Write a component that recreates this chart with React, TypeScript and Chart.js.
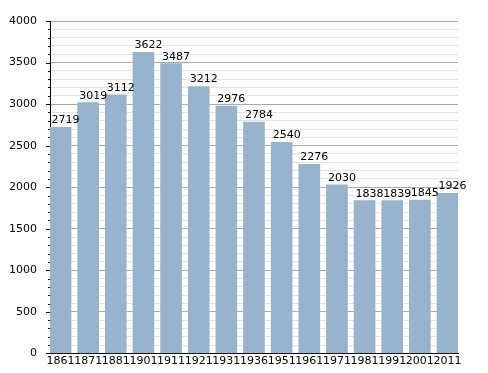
import React, { useEffect, useRef } from "react";
import { Chart, registerables } from "chart.js";

Chart.register(...registerables);

const years = ["1861", "1871", "1881", "1901", "1911", "1921", "1931", "1936", "1951", "1961", "1971", "1981", "1991", "2001", "2011"];
const population = [2719, 3019, 3112, 3622, 3487, 3212, 2976, 2784, 2540, 2276, 2030, 1838, 1839, 1845, 1926];
const yMax = 4000;
const majorStep = 500;
const minorStep = 100;

const FONT = "'DejaVu Sans', sans-serif";

const valueLabels = {
  id: "valueLabels",
  afterDatasetsDraw(chart: any) {
    const ctx = chart.ctx;
    const meta = chart.getDatasetMeta(0);
    ctx.save();
    ctx.font = `11px ${FONT}`;
    ctx.fillStyle = "#000";
    ctx.textAlign = "left";
    ctx.textBaseline = "alphabetic";
    meta.data.forEach((bar: any, i: number) => {
      const left = bar.x - bar.width / 2;
      ctx.fillText(String(population[i]), left + 1.5, bar.y - 4);
    });
    ctx.restore();
  },
};

const yTickMarks = {
  id: "yTickMarks",
  afterDraw(chart: any) {
    const ctx = chart.ctx;
    const y = chart.scales.y;
    const x0 = chart.chartArea.left;
    ctx.save();
    ctx.strokeStyle = "#000";
    ctx.lineWidth = 1;
    for (let v = 0; v <= yMax; v += minorStep) {
      const py = Math.round(y.getPixelForValue(v)) + 0.5;
      const len = v % majorStep === 0 ? 4 : 2;
      ctx.beginPath();
      ctx.moveTo(x0 - len, py);
      ctx.lineTo(x0, py);
      ctx.stroke();
    }
    ctx.restore();
  },
};

export default function App() {
  const ref = useRef<HTMLCanvasElement | null>(null);
  useEffect(() => {
    if (!ref.current) return;
    Chart.defaults.font.family = FONT;
    Chart.defaults.font.size = 11;
    Chart.defaults.color = "#000";
    const chart = new Chart(ref.current, {
      type: "bar",
      data: {
        datasets: [
          {
            data: population.map((v, i) => ({ x: i, y: v })),
            backgroundColor: "#99b3cc",
            borderWidth: 0,
            barThickness: 21,
          },
        ],
      },
      options: {
        animation: false,
        responsive: true,
        maintainAspectRatio: false,
        layout: { padding: { top: 21, right: 30, left: 0, bottom: 0 } },
        plugins: { legend: { display: false }, tooltip: { enabled: false } },
        scales: {
          x: {
            type: "linear",
            offset: false,
            min: -0.38,
            max: years.length - 1 + 0.38,
            afterBuildTicks: (scale: any) => {
              scale.ticks = years.map((_, i) => ({ value: i }));
            },
            afterFit: (scale: any) => {
              scale.height = 19;
            },
            grid: { display: false, drawTicks: false },
            border: { color: "#000", width: 1 },
            ticks: {
              autoSkip: false,
              maxRotation: 0,
              minRotation: 0,
              padding: 1,
              callback: (v: any) => years[Math.round(v)] ?? "",
            },
          },
          y: {
            min: 0,
            max: yMax,
            afterFit: (scale: any) => {
              scale.width = 50;
            },
            grid: {
              drawTicks: false,
              color: (c: any) => (c.tick && c.tick.value % majorStep === 0 ? "#aaaaaa" : "#e2e2e2"),
            },
            border: { color: "#000", width: 1 },
            ticks: {
              stepSize: minorStep,
              autoSkip: false,
              padding: 13,
              callback: (v: any) => (Number(v) % majorStep === 0 ? String(v) : ""),
            },
          },
        },
      },
      plugins: [valueLabels, yTickMarks],
    });
    return () => chart.destroy();
  }, []);
  return (
    <div style={{ position: "fixed", left: 0, top: 0, width: 488, height: 373, background: "#fff" }}>
      <canvas ref={ref} />
    </div>
  );
}
